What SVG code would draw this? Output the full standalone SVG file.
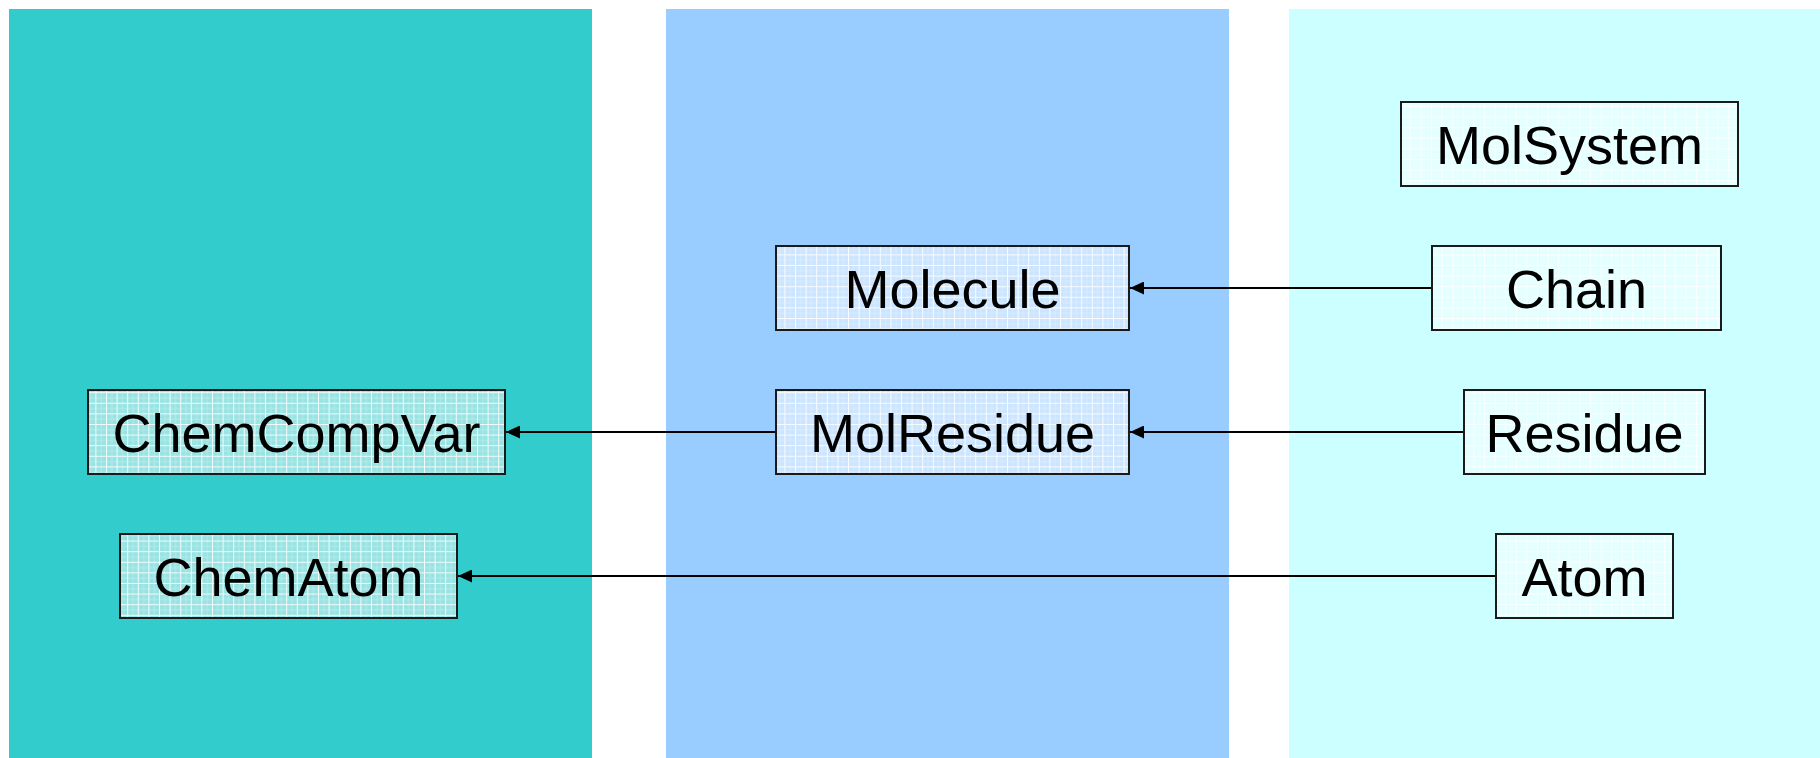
<svg xmlns="http://www.w3.org/2000/svg" width="1820" height="758" viewBox="0 0 1820 758">
  <defs>
    <style>
      .node rect { stroke: #1a1a1a; stroke-width: 2; }
      .node text { font-family: "Liberation Sans", Arial, sans-serif; font-size: 54px; fill: #000; text-anchor: middle; }
      .conn { stroke: #000; stroke-width: 2; fill: none; marker-end: url(#arrow); }
    </style>
    <pattern id="gridT" width="10.6" height="10.6" patternUnits="userSpaceOnUse">
      <rect width="10.6" height="10.6" fill="#99e3e3"/>
      <path d="M0 0.5H10.6M0.5 0V10.6" stroke="#ffffff" stroke-width="1" opacity="0.85"/>
      <path d="M0 5.8H10.6M5.8 0V10.6" stroke="#ffffff" stroke-width="0.7" opacity="0.35"/>
    </pattern>
    <pattern id="gridB" width="10.6" height="10.6" patternUnits="userSpaceOnUse">
      <rect width="10.6" height="10.6" fill="#cce5ff"/>
      <path d="M0 0.5H10.6M0.5 0V10.6" stroke="#ffffff" stroke-width="1" opacity="0.85"/>
      <path d="M0 5.8H10.6M5.8 0V10.6" stroke="#ffffff" stroke-width="0.7" opacity="0.35"/>
    </pattern>
    <pattern id="gridC" width="10.6" height="10.6" patternUnits="userSpaceOnUse">
      <rect width="10.6" height="10.6" fill="#e3ffff"/>
      <path d="M0 0.5H10.6M0.5 0V10.6" stroke="#ffffff" stroke-width="1" opacity="0.85"/>
      <path d="M0 5.8H10.6M5.8 0V10.6" stroke="#ffffff" stroke-width="0.7" opacity="0.35"/>
    </pattern>
    <marker id="arrow" viewBox="0 0 14 13" refX="14" refY="6.5" markerWidth="14" markerHeight="13" markerUnits="userSpaceOnUse" orient="auto">
      <path d="M0 0L14 6.5L0 13Z" fill="#000"/>
    </marker>
  </defs>

  <g id="panels">
    <rect x="9" y="9" width="583" height="749" fill="#33cccc"/>
    <rect x="666" y="9" width="563" height="749" fill="#99ccff"/>
    <rect x="1289" y="9" width="531" height="749" fill="#ccffff"/>
  </g>

  <g id="connectors">
    <line class="conn" x1="1432" y1="288" x2="1130" y2="288"/>
    <line class="conn" x1="776" y1="432" x2="506" y2="432"/>
    <line class="conn" x1="1464" y1="432" x2="1130" y2="432"/>
    <line class="conn" x1="1496" y1="576" x2="458" y2="576"/>
  </g>

  <g id="ChemCompVar" class="node">
    <rect x="88" y="390" width="417" height="84" fill="url(#gridT)"/>
    <text x="296.5" y="452">ChemCompVar</text>
  </g>
  <g id="ChemAtom" class="node">
    <rect x="120" y="534" width="337" height="84" fill="url(#gridT)"/>
    <text x="288.5" y="596">ChemAtom</text>
  </g>
  <g id="Molecule" class="node">
    <rect x="776" y="246" width="353" height="84" fill="url(#gridB)"/>
    <text x="952.5" y="308">Molecule</text>
  </g>
  <g id="MolResidue" class="node">
    <rect x="776" y="390" width="353" height="84" fill="url(#gridB)"/>
    <text x="952.5" y="452">MolResidue</text>
  </g>
  <g id="MolSystem" class="node">
    <rect x="1401" y="102" width="337" height="84" fill="url(#gridC)"/>
    <text x="1569.5" y="164">MolSystem</text>
  </g>
  <g id="Chain" class="node">
    <rect x="1432" y="246" width="289" height="84" fill="url(#gridC)"/>
    <text x="1576.5" y="308">Chain</text>
  </g>
  <g id="Residue" class="node">
    <rect x="1464" y="390" width="241" height="84" fill="url(#gridC)"/>
    <text x="1584.5" y="452">Residue</text>
  </g>
  <g id="Atom" class="node">
    <rect x="1496" y="534" width="177" height="84" fill="url(#gridC)"/>
    <text x="1584.5" y="596">Atom</text>
  </g>
</svg>
